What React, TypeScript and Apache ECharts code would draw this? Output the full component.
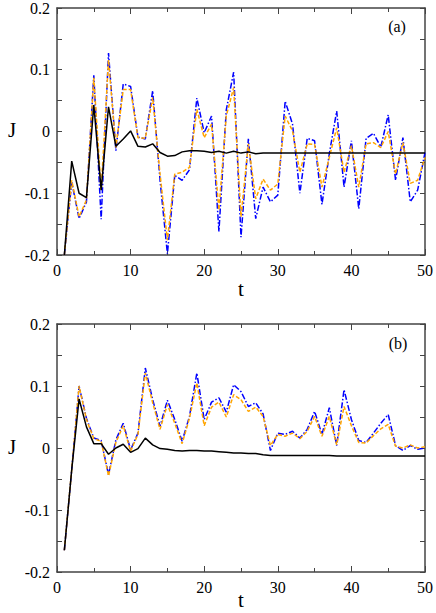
import React, { useEffect, useRef } from "react";
import * as echarts from "echarts";

const T = Array.from({ length: 50 }, (_, i) => i + 1);

const aBlack = [-0.2, -0.048, -0.1, -0.107, 0.043, -0.095, 0.04, -0.024, -0.012, 0.001,
  -0.024, -0.025, -0.02, -0.034, -0.04, -0.039, -0.033, -0.031, -0.031, -0.032,
  -0.034, -0.032, -0.035, -0.032, -0.035, -0.033, -0.036, -0.035, -0.035, -0.035,
  -0.035, -0.035, -0.035, -0.035, -0.035, -0.035, -0.035, -0.035, -0.035, -0.035,
  -0.035, -0.035, -0.035, -0.035, -0.035, -0.035, -0.035, -0.035, -0.035, -0.035];
const aOrange = [-0.2, -0.079, -0.138, -0.111, 0.087, -0.095, 0.116, -0.026, 0.068, 0.068,
  -0.01, -0.011, 0.055, -0.069, -0.176, -0.069, -0.066, -0.058, 0.036, -0.01,
  0.012, -0.127, 0.025, 0.071, -0.138, -0.02, -0.109, -0.077, -0.095, -0.085,
  0.025, 0.001, -0.066, -0.02, -0.021, -0.09, -0.042, 0.006, -0.066, -0.023,
  -0.09, -0.02, -0.018, -0.026, 0.0, -0.069, -0.018, -0.084, -0.079, -0.042];
const aBlue = [-0.2, -0.082, -0.141, -0.114, 0.091, -0.142, 0.127, -0.031, 0.077, 0.073,
  -0.009, -0.012, 0.066, -0.079, -0.198, -0.071, -0.079, -0.062, 0.054, -0.002,
  0.025, -0.162, 0.035, 0.096, -0.171, -0.012, -0.141, -0.09, -0.114, -0.103,
  0.049, 0.012, -0.1, -0.011, -0.015, -0.118, -0.036, 0.033, -0.09, -0.015,
  -0.125, -0.011, -0.003, -0.025, 0.027, -0.079, -0.01, -0.114, -0.095, -0.034];

const bBlack = [-0.165, -0.035, 0.079, 0.034, 0.007, 0.007, -0.01, 0.0, 0.006, -0.007,
  -0.001, 0.016, 0.005, -0.001, -0.002, -0.004, -0.005, -0.004, -0.004, -0.005,
  -0.005, -0.006, -0.007, -0.008, -0.008, -0.009, -0.009, -0.011, -0.012, -0.012,
  -0.012, -0.012, -0.012, -0.012, -0.012, -0.012, -0.012, -0.013, -0.013, -0.013,
  -0.013, -0.013, -0.013, -0.013, -0.013, -0.013, -0.013, -0.013, -0.013, -0.013];
const bOrange = [-0.165, -0.035, 0.1, 0.046, 0.015, 0.011, -0.045, 0.009, 0.036, -0.005,
  0.022, 0.121, 0.073, 0.03, 0.07, 0.04, 0.007, 0.048, 0.105, 0.036,
  0.066, 0.074, 0.05, 0.086, 0.078, 0.059, 0.066, 0.051, 0.004, 0.022,
  0.019, 0.024, 0.015, 0.027, 0.051, 0.019, 0.051, 0.005, 0.067, 0.036,
  0.009, 0.008, 0.02, 0.031, 0.038, 0.003, 0.0, 0.005, 0.0, 0.002];
const bBlue = [-0.165, -0.035, 0.1, 0.048, 0.016, 0.012, -0.043, 0.013, 0.04, -0.003,
  0.024, 0.129, 0.078, 0.035, 0.077, 0.046, 0.011, 0.051, 0.121, 0.046,
  0.074, 0.081, 0.058, 0.102, 0.091, 0.067, 0.073, 0.055, -0.004, 0.024,
  0.022, 0.027, 0.016, 0.03, 0.059, 0.022, 0.065, 0.004, 0.094, 0.046,
  0.012, 0.009, 0.024, 0.04, 0.054, 0.004, -0.004, 0.004, -0.002, 0.0];

const FONT = "Times New Roman, Liberation Serif, Tinos, DejaVu Serif, serif";
const AXIS_COLOR = "#444";

function pairs(v: number[]) {
  return T.map((t, i) => [t, v[i]]);
}

export default function App() {
  const ref = useRef<HTMLDivElement>(null);
  useEffect(() => {
    if (!ref.current) return;
    const chart = echarts.init(ref.current, null, { renderer: "svg" });
    const grids = [
      { left: 57, top: 6, width: 368, height: 249 },
      { left: 57, top: 324, width: 368, height: 248 },
    ];
    const xAxes: any[] = [];
    const yAxes: any[] = [];
    grids.forEach((_, gi) => {
      ["bottom", "top"].forEach((pos) => {
        xAxes.push({
          type: "value",
          gridIndex: gi,
          position: pos,
          min: 0,
          max: 50,
          interval: 10,
          axisLine: { show: true, onZero: false, lineStyle: { color: AXIS_COLOR, width: 1.5 } },
          axisTick: { show: true, inside: true, length: 6, lineStyle: { color: AXIS_COLOR, width: 1 } },
          minorTick: { show: true, splitNumber: 2, length: 4, lineStyle: { color: AXIS_COLOR, width: 1 } },
          splitLine: { show: false },
          axisLabel: {
            show: pos === "bottom",
            margin: 7,
            fontSize: 16,
            fontFamily: FONT,
            color: "#000",
          },
        });
      });
      ["left", "right"].forEach((pos) => {
        yAxes.push({
          type: "value",
          gridIndex: gi,
          position: pos,
          min: -0.2,
          max: 0.2,
          interval: 0.1,
          axisLine: { show: true, onZero: false, lineStyle: { color: AXIS_COLOR, width: 1.5 } },
          axisTick: { show: true, inside: true, length: 5, lineStyle: { color: AXIS_COLOR, width: 1 } },
          minorTick: { show: true, splitNumber: 2, length: 5, lineStyle: { color: AXIS_COLOR, width: 1 } },
          splitLine: { show: false },
          axisLabel: {
            show: pos === "left",
            margin: 7,
            fontSize: 16,
            fontFamily: FONT,
            color: "#000",
            formatter: (v: number) => String(Number(v.toFixed(2))),
          },
        });
      });
    });

    const mk = (data: number[], gi: number, color: string, type: any) => ({
      type: "line",
      xAxisIndex: gi * 2,
      yAxisIndex: gi * 2,
      data: pairs(data),
      showSymbol: false,
      symbol: "none",
      lineStyle: { color, width: 1.5, type },
      silent: true,
    });

    const series = [
      mk(aBlue, 0, "#0000ff", [6, 2, 1.5, 2]),
      mk(aOrange, 0, "#ffa500", [4, 2]),
      mk(aBlack, 0, "#000000", "solid"),
      mk(bBlue, 1, "#0000ff", [6, 2, 1.5, 2]),
      mk(bOrange, 1, "#ffa500", [4, 2]),
      mk(bBlack, 1, "#000000", "solid"),
    ];

    const txt = (x: number, y: number, text: string, size: number) => ({
      type: "text",
      x,
      y,
      style: {
        text,
        fontSize: size,
        fontFamily: FONT,
        fill: "#000",
        align: "center",
        verticalAlign: "middle",
      },
    });

    chart.setOption({
      animation: false,
      backgroundColor: "#fff",
      grid: grids,
      xAxis: xAxes,
      yAxis: yAxes,
      series,
      graphic: [
        txt(12, 130, "J", 21),
        txt(241, 289, "t", 21),
        txt(397, 26, "(a)", 16),
        txt(12, 447, "J", 21),
        txt(241, 600, "t", 21),
        txt(398, 343, "(b)", 16),
      ],
    });
    return () => chart.dispose();
  }, []);
  return (
    <div
      ref={ref}
      style={{ position: "absolute", left: 0, top: 0, width: 436, height: 613 }}
    />
  );
}
